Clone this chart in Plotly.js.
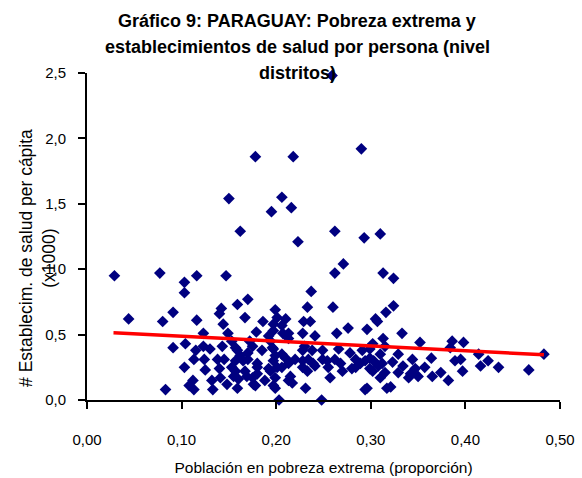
<!DOCTYPE html>
<html>
<head>
<meta charset="utf-8">
<script src="https://cdn.plot.ly/plotly-3.0.1.min.js"></script>
<style>html,body{margin:0;padding:0;background:#fff;}#chart{width:582px;height:478px;}</style>
</head>
<body>
<div id="chart"></div>
<script>
// Extreme poverty share (x) vs health establishments per capita x1000 (y), districts
const povertyShare = [
0.259,0.290,0.178,0.218,0.150,0.206,0.216,0.195,0.162,0.262,
0.310,0.293,0.223,0.271,0.262,0.313,0.324,0.029,0.077,0.103,
0.103,0.116,0.147,0.237,0.044,0.091,0.080,0.116,0.142,0.140,
0.144,0.159,0.170,0.167,0.123,0.149,0.153,0.091,0.104,0.123,
0.130,0.115,0.113,0.124,0.138,0.143,0.145,0.157,0.157,0.103,
0.125,0.140,0.153,0.141,0.155,0.108,0.113,0.133,0.083,0.148,
0.159,0.112,0.132,0.160,0.175,0.188,0.199,0.178,0.199,0.203,
0.248,0.260,0.233,0.199,0.186,0.201,0.197,0.210,0.229,0.236,
0.276,0.264,0.296,0.307,0.316,0.313,0.179,0.197,0.207,0.206,
0.228,0.241,0.213,0.172,0.192,0.194,0.213,0.159,0.170,0.185,
0.197,0.206,0.228,0.238,0.249,0.266,0.278,0.291,0.299,0.310,
0.165,0.180,0.197,0.213,0.228,0.239,0.254,0.268,0.289,0.303,
0.157,0.169,0.180,0.194,0.215,0.233,0.257,0.280,0.299,0.176,
0.197,0.217,0.231,0.296,0.317,0.162,0.170,0.199,0.167,0.180,
0.192,0.201,0.175,0.196,0.230,0.210,0.220,0.234,0.249,0.262,
0.284,0.294,0.206,0.228,0.241,0.255,0.270,0.284,0.213,0.294,
0.305,0.324,0.333,0.352,0.386,0.398,0.302,0.315,0.329,0.344,
0.364,0.299,0.308,0.323,0.334,0.347,0.357,0.374,0.302,0.315,
0.329,0.340,0.350,0.365,0.382,0.321,0.389,0.384,0.395,0.414,
0.424,0.416,0.435,0.467,0.483,0.397,0.342,0.312,0.310
];
const healthPerCapita = [
2.48,1.92,1.86,1.86,1.54,1.55,1.47,1.44,1.29,1.29,
1.27,1.24,1.21,1.04,0.97,0.97,0.93,0.95,0.97,0.90,
0.82,0.95,0.95,0.83,0.62,0.67,0.60,0.61,0.70,0.66,
0.58,0.73,0.77,0.63,0.51,0.51,0.45,0.40,0.43,0.41,
0.39,0.38,0.31,0.31,0.31,0.41,0.31,0.30,0.40,0.25,
0.23,0.24,0.25,0.17,0.18,0.11,0.08,0.08,0.08,0.12,
0.09,0.15,0.15,0.16,0.17,0.15,0.17,0.11,0.09,0.00,
0.00,0.71,0.71,0.69,0.60,0.63,0.58,0.62,0.60,0.60,
0.55,0.51,0.54,0.60,0.67,0.47,0.52,0.53,0.51,0.57,
0.51,0.49,0.51,0.45,0.49,0.45,0.47,0.38,0.36,0.38,
0.39,0.35,0.38,0.38,0.38,0.39,0.36,0.38,0.39,0.35,
0.30,0.28,0.30,0.28,0.30,0.28,0.30,0.28,0.28,0.30,
0.22,0.18,0.20,0.22,0.18,0.22,0.17,0.24,0.24,0.12,
0.11,0.13,0.09,0.09,0.09,0.34,0.31,0.34,0.22,0.25,
0.24,0.25,0.41,0.40,0.41,0.32,0.31,0.31,0.31,0.31,
0.31,0.30,0.25,0.25,0.26,0.25,0.22,0.25,0.15,0.08,
0.62,0.72,0.51,0.44,0.45,0.44,0.43,0.41,0.35,0.31,
0.32,0.32,0.26,0.29,0.26,0.24,0.25,0.21,0.22,0.21,
0.21,0.17,0.18,0.18,0.15,0.10,0.30,0.40,0.31,0.35,
0.30,0.26,0.25,0.23,0.35,0.22,0.20,0.28,0.17
];
// Linear trend line (end points)
const trendX = [0.028, 0.483];
const trendY = [0.515, 0.345];

const xTickVals = [0, 0.1, 0.2, 0.3, 0.4, 0.5];
const yTickVals = [0, 0.5, 1.0, 1.5, 2.0, 2.5];

const titleLines = [
  'Gráfico 9: PARAGUAY: Pobreza extrema y',
  'establecimientos de salud por persona (nivel',
  'distritos)'
];
const xTitleText = 'Población en pobreza extrema (proporción)';
const yTitleText = '# Establecim. de salud per cápita<br>(x1000)';

const FONT = '"Liberation Sans", Arial, sans-serif';

const traces = [
  {
    type: 'scatter', mode: 'markers',
    x: povertyShare, y: healthPerCapita,
    marker: {symbol: 'diamond', size: 9, color: '#000080', line: {width: 0}},
    cliponaxis: false, hoverinfo: 'skip', showlegend: false
  },
  {
    type: 'scatter', mode: 'lines',
    x: trendX, y: trendY,
    line: {color: '#ff0000', width: 3.5},
    hoverinfo: 'skip', showlegend: false
  }
];

// title line centres in pixels from top (converted to paper coords below)
const H = 478, T = 73, B = 78, plotH = H - T - B;
const titleCentersPx = [21, 47, 73];
const titleAnnotations = titleLines.map((t, i) => ({
  text: '<b>' + t + '</b>',
  xref: 'paper', yref: 'paper',
  x: (297 - 87) / (582 - 87 - 22),
  y: (H - B - titleCentersPx[i]) / plotH,
  xanchor: 'center', yanchor: 'middle', showarrow: false,
  font: {family: FONT, size: 18, color: '#000'}
}));

const layout = {
  width: 582, height: 478,
  margin: {l: 87, r: 22, t: T, b: B, pad: 0},
  paper_bgcolor: '#ffffff', plot_bgcolor: '#ffffff',
  separators: ', ',
  font: {family: FONT, color: '#000000', size: 15},
  xaxis: {
    range: [0, 0.5], tickvals: xTickVals, tickformat: '.2f',
    showgrid: false, zeroline: false,
    showline: true, linecolor: '#000', linewidth: 2,
    ticks: 'outside', ticklen: 7, tickwidth: 2, tickcolor: '#000',
    ticklabelstandoff: 18,
    tickfont: {family: FONT, size: 15, color: '#000'},
    title: {text: xTitleText, font: {family: FONT, size: 15.5, color: '#000'}, standoff: 15},
    fixedrange: true
  },
  yaxis: {
    range: [0, 2.5], tickvals: yTickVals, tickformat: '.1f',
    showgrid: false, zeroline: false,
    showline: true, linecolor: '#000', linewidth: 2,
    ticks: 'outside', ticklen: 7, tickwidth: 2, tickcolor: '#000',
    ticklabelstandoff: 9,
    tickfont: {family: FONT, size: 15, color: '#000'},
    fixedrange: true
  },
  annotations: titleAnnotations.concat([{
    text: yTitleText, textangle: -90,
    xref: 'paper', yref: 'paper',
    x: -0.106, y: 0.434, xanchor: 'center', yanchor: 'middle',
    showarrow: false,
    font: {family: FONT, size: 17.5, color: '#000'}
  }])
};

Plotly.newPlot('chart', traces, layout, {staticPlot: true, displayModeBar: false});
</script>
</body>
</html>
